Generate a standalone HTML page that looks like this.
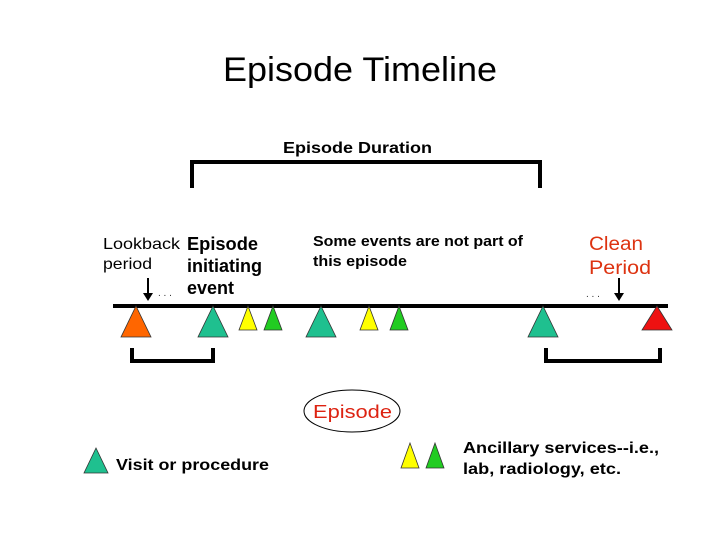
<!DOCTYPE html>
<html><head><style>
body{margin:0;background:#fff;}
svg{display:block;font-family:"Liberation Sans",Arial,sans-serif;}
</style></head><body>
<svg width="720" height="540" viewBox="0 0 720 540">
<text x="223" y="81" font-size="34" textLength="274" lengthAdjust="spacingAndGlyphs">Episode Timeline</text>
<text x="283" y="153" font-size="16" font-weight="bold" textLength="149" lengthAdjust="spacingAndGlyphs">Episode Duration</text>
<path d="M192 188 V162 H540 V188" fill="none" stroke="#000" stroke-width="4"/>
<text x="103" y="249" font-size="16" textLength="77" lengthAdjust="spacingAndGlyphs">Lookback</text>
<text x="103" y="269" font-size="16" textLength="49" lengthAdjust="spacingAndGlyphs">period</text>
<text x="187" y="250" font-size="18" font-weight="bold" textLength="71" lengthAdjust="spacingAndGlyphs">Episode</text>
<text x="187" y="272" font-size="18" font-weight="bold" textLength="75" lengthAdjust="spacingAndGlyphs">initiating</text>
<text x="187" y="294" font-size="18" font-weight="bold" textLength="47" lengthAdjust="spacingAndGlyphs">event</text>
<text x="158" y="296" font-size="10" fill="#333">. . .</text>
<line x1="148" y1="278" x2="148" y2="296" stroke="#000" stroke-width="2"/>
<polygon points="143,293 153,293 148,301" fill="#000"/>
<text x="313" y="246" font-size="15" font-weight="bold" textLength="210" lengthAdjust="spacingAndGlyphs">Some events are not part of</text>
<text x="313" y="266" font-size="15" font-weight="bold" textLength="94" lengthAdjust="spacingAndGlyphs">this episode</text>
<text x="589" y="250" font-size="19" fill="#dd3311" textLength="54" lengthAdjust="spacingAndGlyphs">Clean</text>
<text x="589" y="274" font-size="19" fill="#dd3311" textLength="62" lengthAdjust="spacingAndGlyphs">Period</text>
<text x="586" y="297" font-size="10" fill="#333">. . .</text>
<line x1="619" y1="278" x2="619" y2="296" stroke="#000" stroke-width="2"/>
<polygon points="614,293 624,293 619,301" fill="#000"/>
<line x1="113" y1="306" x2="668" y2="306" stroke="#000" stroke-width="4"/>
<g stroke="#333" stroke-width="0.8">
<polygon points="136,306 121,337 151,337" fill="#ff6600"/>
<polygon points="213,306 198,337 228,337" fill="#1fc08f"/>
<polygon points="248,306 239,330 257,330" fill="#ffff00"/>
<polygon points="273,306 264,330 282,330" fill="#22cc22"/>
<polygon points="321,306 306,337 336,337" fill="#1fc08f"/>
<polygon points="369,306 360,330 378,330" fill="#ffff00"/>
<polygon points="399,306 390,330 408,330" fill="#22cc22"/>
<polygon points="543,306 528,337 558,337" fill="#1fc08f"/>
<polygon points="657,306 642,330 672,330" fill="#ee1111"/>
<polygon points="96,448 84,473 108,473" fill="#1fc08f"/>
<polygon points="410,443 401,468 419,468" fill="#ffff00"/>
<polygon points="435,443 426,468 444,468" fill="#22cc22"/>
</g>
<path d="M132 348 V361 H213 V348" fill="none" stroke="#000" stroke-width="4"/>
<path d="M546 348 V361 H660 V348" fill="none" stroke="#000" stroke-width="4"/>
<ellipse cx="352" cy="411" rx="48" ry="21" fill="#fff" stroke="#000" stroke-width="1"/>
<text x="313" y="418" font-size="18" fill="#dd2211" textLength="79" lengthAdjust="spacingAndGlyphs">Episode</text>
<text x="116" y="470" font-size="16" font-weight="bold" textLength="153" lengthAdjust="spacingAndGlyphs">Visit or procedure</text>
<text x="463" y="453" font-size="16" font-weight="bold" textLength="196" lengthAdjust="spacingAndGlyphs">Ancillary services--i.e.,</text>
<text x="463" y="474" font-size="16" font-weight="bold" textLength="158" lengthAdjust="spacingAndGlyphs">lab, radiology, etc.</text>
</svg>
</body></html>
